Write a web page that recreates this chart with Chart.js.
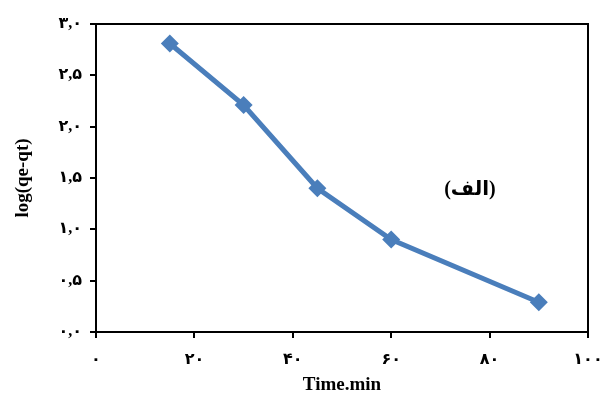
<!DOCTYPE html>
<html>
<head>
<meta charset="utf-8">
<script src="https://cdn.jsdelivr.net/npm/chart.js@4"></script>
<style>
  html, body { margin: 0; padding: 0; background: #fff; }
  #wrap { width: 602px; height: 396px; }
</style>
</head>
<body>
<div id="wrap"><canvas id="c" width="602" height="396"></canvas></div>
<script>
// ---- data ----
const timeMin = [15, 30, 45, 60, 90];
const logQeQt = [2.81, 2.21, 1.40, 0.90, 0.29];
const xTickLabels = ['۰', '۲۰', '۴۰', '۶۰', '۸۰', '۱۰۰'];
const yTickLabels = ['۰,۰', '۰,۵', '۱,۰', '۱,۵', '۲,۰', '۲,۵', '۳,۰'];
const xTitle = 'Time.min';
const yTitle = 'log(qe-qt)';
const panelLabel = '(الف)';
const panelLabelAt = [76, 1.38];

const FONT = '"Liberation Serif", "Times New Roman", "DejaVu Sans", serif';
const BLUE = '#4A7EBB';

const framePlugin = {
  id: 'frame',
  beforeDatasetsDraw(chart) {
    const a = chart.chartArea, ctx = chart.ctx;
    ctx.save();
    ctx.strokeStyle = '#000';
    ctx.lineWidth = 2;
    ctx.strokeRect(a.left, a.top, a.right - a.left, a.bottom - a.top);
    ctx.restore();
  }
};

const labelPlugin = {
  id: 'panelLabel',
  afterDatasetsDraw(chart) {
    const ctx = chart.ctx;
    const x = chart.scales.x.getPixelForValue(panelLabelAt[0]);
    const y = chart.scales.y.getPixelForValue(panelLabelAt[1]);
    ctx.save();
    ctx.font = 'bold 20px ' + FONT;
    ctx.fillStyle = '#000';
    ctx.textAlign = 'center';
    ctx.textBaseline = 'middle';
    ctx.fillText(panelLabel, x, y);
    ctx.restore();
  }
};

new Chart(document.getElementById('c'), {
  type: 'scatter',
  data: {
    datasets: [{
      data: timeMin.map((t, i) => ({ x: t, y: logQeQt[i] })),
      showLine: true,
      borderColor: BLUE,
      backgroundColor: BLUE,
      borderWidth: 5,
      pointStyle: 'rectRot',
      pointRadius: 9,
      pointHoverRadius: 9,
      pointBorderWidth: 0,
      tension: 0
    }]
  },
  options: {
    responsive: false,
    animation: false,
    events: [],
    layout: { padding: { top: 24, right: 14, left: 0, bottom: 0 } },
    plugins: { legend: { display: false }, tooltip: { enabled: false } },
    scales: {
      x: {
        type: 'linear',
        min: 0, max: 100,
        afterBuildTicks(scale) {
          scale.ticks = xTickLabels.map((_, i) => ({ value: i * 20 }));
        },
        afterFit(scale) { scale.height = 64; scale.paddingLeft = 0; scale.paddingRight = 0; },
        border: { display: true, color: '#000', width: 2 },
        grid: { drawOnChartArea: false, drawTicks: true, tickLength: 6, color: '#000', lineWidth: 2 },
        ticks: {
          padding: 12,
          color: '#000',
          maxRotation: 0,
          autoSkip: false,
          font: { family: FONT, size: 16, weight: 'bold' },
          callback: (v, i) => xTickLabels[i]
        },
        title: {
          display: true, text: xTitle, color: '#000',
          font: { family: FONT, size: 19, weight: 'bold', lineHeight: 1 },
          padding: { top: 0, bottom: 1 }
        }
      },
      y: {
        type: 'linear',
        min: 0, max: 3,
        afterBuildTicks(scale) {
          scale.ticks = yTickLabels.map((_, i) => ({ value: i * 0.5 }));
        },
        afterFit(scale) { scale.width = 96; scale.paddingTop = 0; scale.paddingBottom = 0; },
        border: { display: true, color: '#000', width: 2 },
        grid: { drawOnChartArea: false, drawTicks: true, tickLength: 6, color: '#000', lineWidth: 2 },
        ticks: {
          padding: 8,
          color: '#000',
          autoSkip: false,
          font: { family: FONT, size: 16, weight: 'bold' },
          callback: (v, i) => yTickLabels[i]
        },
        title: {
          display: true, text: yTitle, color: '#000',
          font: { family: FONT, size: 19, weight: 'bold', lineHeight: 1 },
          padding: { top: 14, bottom: 0 }
        }
      }
    }
  },
  plugins: [framePlugin, labelPlugin]
});
</script>
</body>
</html>
